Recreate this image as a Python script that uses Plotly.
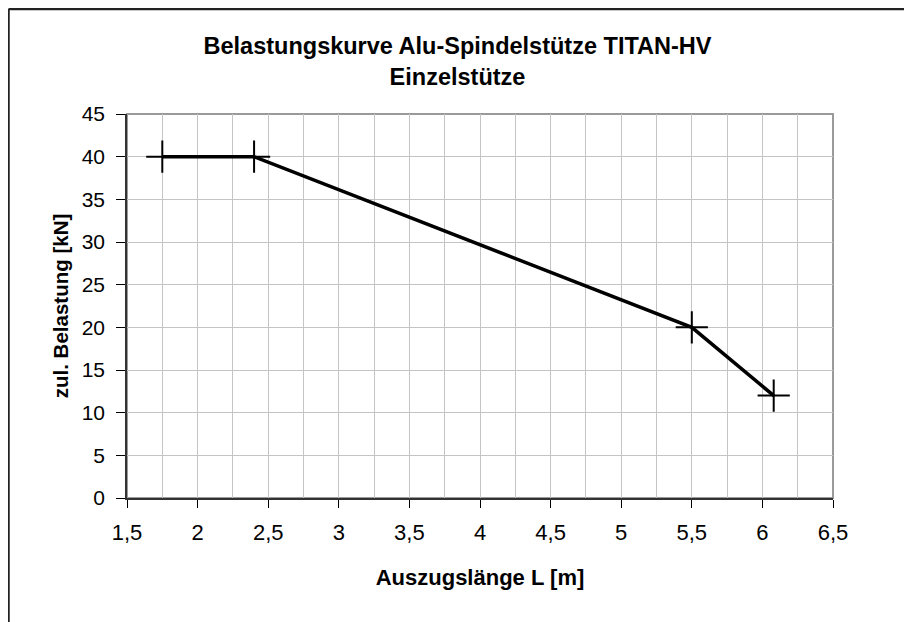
import plotly.graph_objects as go

x_len = [1.75, 2.4, 5.5, 6.08]
load_kn = [40, 40, 20, 12]
title_lines = ["Belastungskurve Alu-Spindelstütze TITAN-HV", "Einzelstütze"]
x_title = "Auszugslänge L [m]"
y_title = "zul. Belastung [kN]"
x_ticks = [1.5, 2, 2.5, 3, 3.5, 4, 4.5, 5, 5.5, 6, 6.5]

FONT = "Liberation Sans, Arial, sans-serif"
W, H = 904, 614
L, R, T, B = 119, 79, 106, 124
PW, PH = W - L - R, H - T - B

fig = go.Figure()
fig.add_trace(go.Scatter(
    x=x_len, y=load_kn, mode="lines+markers",
    line=dict(color="black", width=3.5),
    marker=dict(symbol="cross-thin-open", size=23, line=dict(color="black", width=2)),
    showlegend=False, cliponaxis=False,
))

fig.update_layout(
    width=W, height=H,
    paper_bgcolor="white", plot_bgcolor="white",
    margin=dict(l=L, r=R, t=T, b=B),
    separators=",.",
    font=dict(family=FONT, color="black"),
    title=dict(text="<b>" + "<br>".join(title_lines) + "</b>",
               x=449.5 / W, xref="container", xanchor="center",
               y=1 - 46 / H, yanchor="top", yref="container",
               pad=dict(t=0, b=0),
               font=dict(size=23.5, family=FONT)),
    xaxis=dict(range=[1.5, 6.5], tickvals=x_ticks,
               ticks="outside", ticklen=8, tickcolor="black", tickwidth=1,
               ticklabelstandoff=6,
               showline=True, linecolor="#333333", linewidth=1.5,
               showgrid=True, gridcolor="#c4c4c4", gridwidth=1,
               minor=dict(dtick=0.25, showgrid=True, gridcolor="#c4c4c4", gridwidth=1),
               tickfont=dict(size=22), zeroline=False,
               title=dict(text="<b>" + x_title + "</b>", font=dict(size=22), standoff=25)),
    yaxis=dict(range=[0, 45], dtick=5,
               ticks="outside", ticklen=9, tickcolor="black", tickwidth=1,
               ticklabelstandoff=7,
               showline=True, linecolor="#333333", linewidth=1.5,
               showgrid=True, gridcolor="#c4c4c4", gridwidth=1,
               tickfont=dict(size=21), zeroline=False,
               title=dict(text="<b>" + y_title + "</b>", font=dict(size=20.5), standoff=8)),
    shapes=[
        dict(type="rect", xref="paper", yref="paper", x0=0, x1=1, y0=0, y1=1,
             line=dict(color="#9a9a9a", width=2), layer="below"),
        dict(type="line", xref="paper", yref="paper", x0=-(L - 0.5) / PW, x1=(W - L + 10) / PW,
             y0=1 + (T - 1) / PH, y1=1 + (T - 1) / PH, line=dict(color="#222222", width=2.5)),
        dict(type="line", xref="paper", yref="paper", x0=-(L - 0.5) / PW, x1=-(L - 0.5) / PW,
             y0=1 + (T - 1) / PH, y1=-(B + 10) / PH, line=dict(color="#222222", width=2.5)),
    ],
)

fig.write_html("out.html")
